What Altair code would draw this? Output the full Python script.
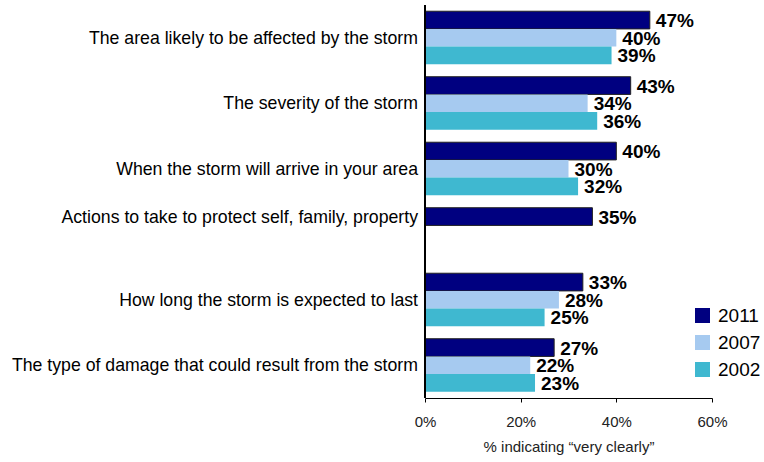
import altair as alt
import pandas as pd

categories = [
    "The area likely to be affected by the storm",
    "The severity of the storm",
    "When the storm will arrive in your area",
    "Actions to take to protect self, family, property",
    "How long the storm is expected to last",
    "The type of damage that could result from the storm",
]
years = ["2011", "2007", "2002"]
v2011 = [47, 43, 40, 35, 33, 27]
v2007 = [40, 34, 30, None, 28, 22]
v2002 = [39, 36, 32, None, 25, 23]
colors = ["#000080", "#A6CAF0", "#3FB8D0"]
label_year = ["2007", "2007", "2007", "2011", "2007", "2007"]

rows = []
for i, c in enumerate(categories):
    for y, vals in zip(years, [v2011, v2007, v2002]):
        if vals[i] is not None:
            rows.append({"cat": c, "year": y, "value": vals[i], "label": f"{vals[i]}%"})
df = pd.DataFrame(rows)
lab = pd.DataFrame({"cat": categories, "year": label_year})

yenc = alt.Y("cat:N", sort=categories, axis=None,
             scale=alt.Scale(paddingInner=0.19, paddingOuter=0.095))
yoff = alt.YOffset("year:N", scale=alt.Scale(domain=years))

xenc = alt.X("value:Q",
             scale=alt.Scale(domain=[0, 60]),
             axis=alt.Axis(values=[0, 20, 40, 60], labelExpr="datum.value + '%'",
                           title="% indicating \u201cvery clearly\u201d",
                           grid=False, domainColor="#000", tickColor="#000",
                           tickSize=4, labelFontSize=15, labelColor="#222",
                           labelFlush=False,
                           labelFont="Liberation Sans", labelPadding=12,
                           titleFont="Liberation Sans", titleFontSize=15,
                           titleFontWeight="normal", titleColor="#222",
                           titlePadding=10))

bars = alt.Chart(df).mark_bar().encode(
    x=xenc,
    y=yenc,
    yOffset=yoff,
    color=alt.Color("year:N", scale=alt.Scale(domain=years, range=colors),
                    legend=alt.Legend(title=None, orient="none", legendX=268, legendY=301,
                                      symbolType="square", symbolSize=225,
                                      symbolStrokeWidth=0, labelFontSize=19,
                                      labelFont="Liberation Sans", labelColor="#000",
                                      rowPadding=7, labelOffset=6)),
    stroke=alt.condition(alt.datum.year == "2011", alt.value("#222"), alt.value(None)),
    strokeWidth=alt.value(1),
)

texts = alt.Chart(df).mark_text(align="left", baseline="middle", dx=6, dy=1,
                                font="Liberation Sans", fontSize=19,
                                fontWeight="bold", color="#000").encode(
    x="value:Q", y=yenc, yOffset=yoff, text="label:N")

cats = alt.Chart(lab).mark_text(align="right", baseline="middle", dx=-7, dy=1,
                                font="Liberation Sans", fontSize=17.7,
                                color="#000").encode(
    x=alt.value(0), y=yenc, yOffset=yoff, text="cat:N")

yline = alt.Chart(lab).mark_rule(color="#000", strokeWidth=1.2).encode(
    x=alt.value(0), y=alt.value(0), y2=alt.value(393))

chart = alt.layer(bars, texts, cats, yline).properties(
    width=287, height=393,
    autosize=alt.AutoSizeParams(type="none"),
    padding={"left": 425, "top": 5, "right": 52, "bottom": 64},
).configure_view(stroke=None).configure_axis(domainWidth=1.2)

chart.save("out.html", embed_options={"renderer": "svg", "actions": False})
